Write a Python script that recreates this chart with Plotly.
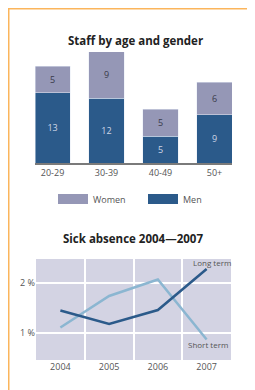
import plotly.graph_objects as go

W, H = 255, 390
OFF = 8  # page body margin: figure origin sits at (8, 8) in the window

# ---- data ----
age_groups = ["20-29", "30-39", "40-49", "50+"]
men = [13, 12, 5, 9]
women = [5, 9, 5, 6]

years = [2004, 2005, 2006, 2007]
long_term = [1.45, 1.18, 1.46, 2.28]
short_term = [1.11, 1.74, 2.07, 0.87]

MEN_C = "#2b5a8a"
WOMEN_C = "#9597b6"
LONG_C = "#2b5a8a"
SHORT_C = "#8bb6d1"
FONT = "Open Sans"

def px(x):
    return (x - OFF) / W

def py(y):
    return 1 - (y - OFF) / H

fig = go.Figure()

fig.add_trace(go.Bar(x=age_groups, y=men, name="Men", marker_color=MEN_C,
                     text=men, textposition="inside", insidetextanchor="middle",
                     textfont=dict(color="#cdd6e6", size=9, family=FONT),
                     showlegend=False, xaxis="x", yaxis="y"))
fig.add_trace(go.Bar(x=age_groups, y=women, name="Women", marker_color=WOMEN_C,
                     text=women, textposition="inside", insidetextanchor="middle",
                     textfont=dict(color="#3a3a4a", size=9, family=FONT),
                     showlegend=False, xaxis="x", yaxis="y"))

# legend entries
fig.add_trace(go.Scatter(x=[None], y=[None], mode="lines", name="Women",
                         line=dict(color=WOMEN_C, width=12), xaxis="x", yaxis="y"))
fig.add_trace(go.Scatter(x=[None], y=[None], mode="lines", name="Men",
                         line=dict(color=MEN_C, width=12), xaxis="x", yaxis="y"))

fig.add_trace(go.Scatter(x=years, y=short_term, mode="lines", name="Short term",
                         line=dict(color=SHORT_C, width=2.5), showlegend=False,
                         xaxis="x2", yaxis="y2"))
fig.add_trace(go.Scatter(x=years, y=long_term, mode="lines", name="Long term",
                         line=dict(color=LONG_C, width=2.5), showlegend=False,
                         xaxis="x2", yaxis="y2"))

fig.update_layout(
    width=W, height=H,
    margin=dict(l=0, r=0, t=0, b=0, autoexpand=False),
    paper_bgcolor="white", plot_bgcolor="white",
    font=dict(family=FONT, size=9, color="#555555"),
    barmode="stack", bargap=0.35,
    xaxis=dict(domain=[px(35), px(232)], range=[-0.325, 3.325],
               showline=True, linecolor="#7a7a7a", linewidth=2,
               ticks="", showgrid=False, tickfont=dict(size=9, color="#555")),
    yaxis=dict(domain=[py(163), py(52)], range=[0, 20.6], visible=False,
               showgrid=False, zeroline=False),
    xaxis2=dict(domain=[px(36), px(231)], range=[2003.5, 2007.5], anchor="y2",
                tickvals=years, ticks="", showgrid=False, zeroline=False,
                tickfont=dict(size=9, color="#555"),
                minor=dict(tickvals=[2004.5, 2005.5, 2006.5], showgrid=True,
                           gridcolor="white", gridwidth=1.5, ticks="")),
    yaxis2=dict(domain=[py(360), py(259)], range=[0.46, 2.48], anchor="x2",
                tickvals=[1, 2], ticktext=["1 %", "2 %"], ticks="",
                showgrid=True, gridcolor="white", gridwidth=1.5, zeroline=False,
                tickfont=dict(size=9, color="#555")),
    legend=dict(orientation="h", x=px(53), y=py(199), xanchor="left",
                yanchor="middle", entrywidth=45, entrywidthmode="pixels",
                traceorder="normal",
                font=dict(size=9, color="#555"), itemwidth=30,
                bgcolor="rgba(0,0,0,0)"),
)

# lavender background only for the line chart
fig.add_shape(type="rect", xref="x2 domain", yref="y2 domain", x0=0, x1=1, y0=0, y1=1,
              fillcolor="#d3d3e3", line=dict(width=0), layer="below")

fig.add_annotation(text="<b>Staff by age and gender</b>", xref="paper", yref="paper",
                   x=px(135), y=py(31), showarrow=False,
                   font=dict(size=11.5, color="#222", family=FONT))
fig.add_annotation(text="<b>Sick absence 2004\u20142007</b>", xref="paper", yref="paper",
                   x=px(133), y=py(238), showarrow=False,
                   font=dict(size=11.5, color="#222", family=FONT))
fig.add_annotation(text="Long term", xref="x2", yref="y2", x=2007.12, y=2.42,
                   showarrow=False, font=dict(size=8, color="#555"))
fig.add_annotation(text="Short term", xref="x2", yref="y2", x=2007.02, y=0.78,
                   showarrow=False, font=dict(size=8, color="#555"))

# orange frame
fig.add_shape(type="line", xref="paper", yref="paper", x0=0, x1=1.0, y0=1, y1=1,
              line=dict(color="#fbb55c", width=3))
fig.add_shape(type="line", xref="paper", yref="paper", x0=0, x1=0, y0=1, y1=0,
              line=dict(color="#fbb55c", width=3))

fig.write_html("out.html")
